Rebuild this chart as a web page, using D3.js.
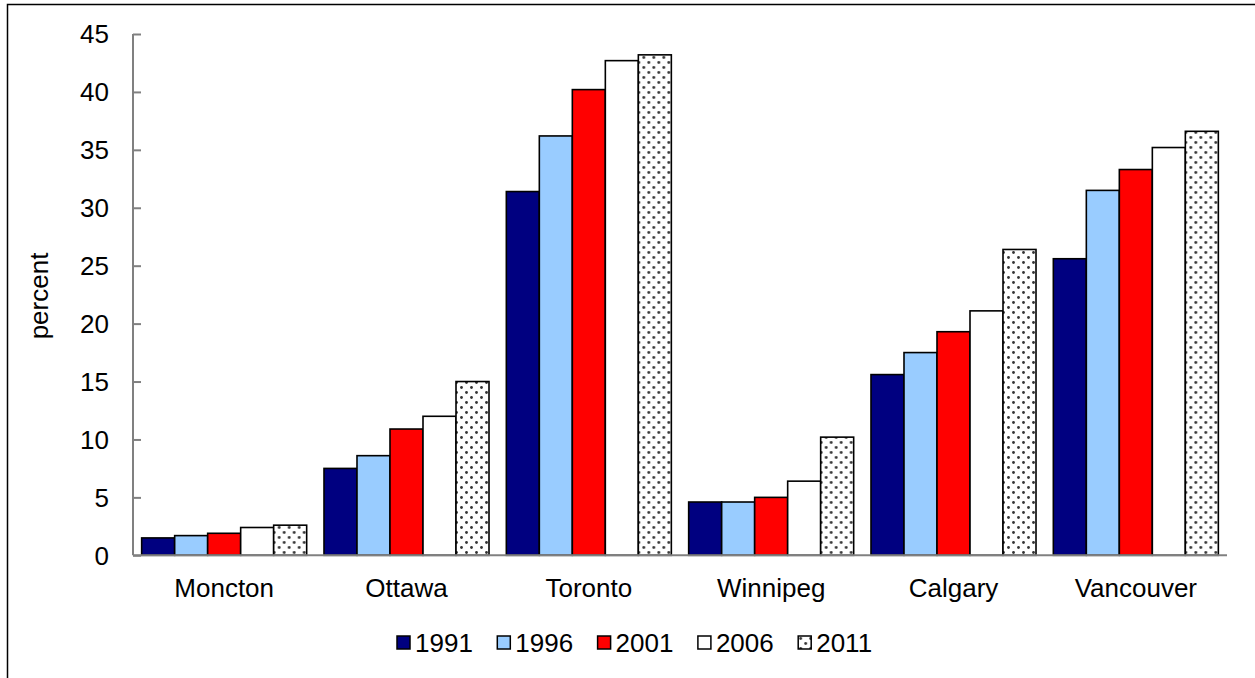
<!DOCTYPE html>
<html>
<head>
<meta charset="utf-8">
<script src="https://cdn.jsdelivr.net/npm/d3@7"></script>
<style>
  html, body { margin: 0; padding: 0; background: #fff; }
  svg { display: block; font-family: "Liberation Sans", Arial, sans-serif; }
</style>
</head>
<body>
<svg id="chart" width="1255" height="678"></svg>
<script>
const categories = ["Moncton", "Ottawa", "Toronto", "Winnipeg", "Calgary", "Vancouver"];
const years = ["1991", "1996", "2001", "2006", "2011"];
const v1991 = [1.5, 7.5, 31.4, 4.6, 15.6, 25.6];
const v1996 = [1.7, 8.6, 36.2, 4.6, 17.5, 31.5];
const v2001 = [1.9, 10.9, 40.2, 5.0, 19.3, 33.3];
const v2006 = [2.4, 12.0, 42.7, 6.4, 21.1, 35.2];
const v2011 = [2.6, 15.0, 43.2, 10.2, 26.4, 36.6];
const yTicks = [0, 5, 10, 15, 20, 25, 30, 35, 40, 45];
const yLabel = "percent";

const seriesValues = [v1991, v1996, v2001, v2006, v2011];
const fills = ["#000080", "#99CCFF", "#FF0000", "#FFFFFF", "url(#dots)"];
const FS = 26;

const svg = d3.select("#chart");

// pattern
const defs = svg.append("defs");
const pat = defs.append("pattern").attr("id", "dots")
  .attr("patternUnits", "userSpaceOnUse").attr("width", 10).attr("height", 10);
pat.append("rect").attr("width", 10).attr("height", 10).attr("fill", "#fff");
pat.append("circle").attr("cx", 2.5).attr("cy", 2.5).attr("r", 1.4).attr("fill", "#333");
pat.append("circle").attr("cx", 7.5).attr("cy", 7.5).attr("r", 1.4).attr("fill", "#333");

// outer border (top and left visible)
svg.append("rect").attr("x", 7.5).attr("y", 4.5).attr("width", 1400).attr("height", 1000)
  .attr("fill", "none").attr("stroke", "#000").attr("stroke-width", 1.5);

const pLeft = 133, pRight = 1227, pTop = 34, pBottom = 555.3;

const x0 = d3.scaleBand().domain(categories).range([pLeft, pRight]).paddingInner(0.095).paddingOuter(0.0475);
const x1 = d3.scaleBand().domain(years).range([0, x0.bandwidth()]);
const y = d3.scaleLinear().domain([0, 45]).range([pBottom, pTop]);

// bars
const groups = svg.append("g").selectAll("g").data(categories).join("g")
  .attr("transform", d => `translate(${x0(d)},0)`);
groups.selectAll("rect").data((c, ci) => years.map((yr, si) => ({yr, si, v: seriesValues[si][ci]})))
  .join("rect")
  .attr("x", d => x1(d.yr))
  .attr("width", x1.bandwidth())
  .attr("y", d => y(d.v))
  .attr("height", d => y(0) - y(d.v))
  .attr("fill", d => fills[d.si])
  .attr("stroke", "#000")
  .attr("stroke-width", 1.6);

// y axis
const yAxis = d3.axisLeft(y).tickValues(yTicks).tickSize(-8).tickPadding(24).tickFormat(d3.format("d"));
const gy = svg.append("g").attr("transform", `translate(${pLeft},0)`).call(yAxis);
gy.select(".domain").attr("stroke", "#808080").attr("stroke-width", 2).attr("d", `M0,${pTop}V${pBottom}`);
gy.selectAll(".tick line").attr("stroke", "#808080").attr("stroke-width", 2);
gy.selectAll(".tick text").attr("font-size", FS).attr("fill", "#000")
  .attr("font-family", "Liberation Sans, Arial, sans-serif").attr("dy", "0.34em");

// x axis
const xAxis = d3.axisBottom(x0).tickSize(0).tickPadding(23);
const gx = svg.append("g").attr("transform", `translate(0,${pBottom})`).call(xAxis);
gx.select(".domain").attr("stroke", "#808080").attr("stroke-width", 2).attr("d", `M${pLeft},0H${pRight}`);
gx.selectAll(".tick text").attr("font-size", FS).attr("fill", "#000")
  .attr("font-family", "Liberation Sans, Arial, sans-serif").attr("dy", "0.71em");

// y label
svg.append("text").attr("transform", "translate(48,296) rotate(-90)")
  .attr("text-anchor", "middle").attr("font-size", FS).text(yLabel);

// legend
const legend = svg.append("g").attr("transform", "translate(397,636)");
const li = legend.selectAll("g").data(years).join("g")
  .attr("transform", (d, i) => `translate(${i * 100.3},0)`);
li.append("rect").attr("width", 13).attr("height", 13)
  .attr("fill", (d, i) => fills[i]).attr("stroke", "#000").attr("stroke-width", 1.5);
li.append("text").attr("x", 18).attr("y", 16).attr("font-size", FS).text(d => d);
</script>
</body>
</html>
